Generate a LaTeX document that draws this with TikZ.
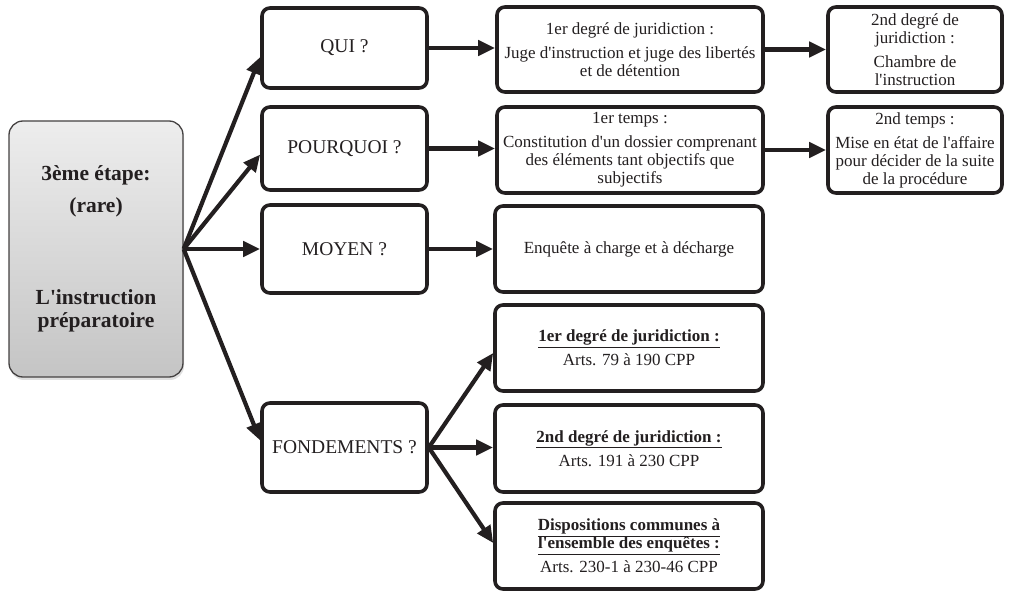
\documentclass[tikz,border=0pt]{standalone}
\usepackage{fontspec}
\newfontfamily\lib{Liberation Serif}
\usetikzlibrary{arrows.meta,shadows}
\definecolor{ink}{HTML}{231F20}
\begin{document}
\begin{tikzpicture}[x=1pt,y=-1pt,
  box/.style={draw=ink, line width=3.6pt, rounded corners=8pt, align=center, inner sep=0pt, fill=white, text=ink,
    font=\lib\fontsize{17}{18}\selectfont},
  qbox/.style={box, font=\lib\fontsize{19.5}{21}\selectfont},
  conn/.style={draw=ink, line width=4.2pt, -{Triangle[length=17pt,width=15pt]}},
  mainbox/.style={draw=ink!85, line width=1.3pt, rounded corners=14pt, align=center, inner sep=0pt, text=ink,
    top color=black!7, bottom color=black!23,
    drop shadow={shadow xshift=1pt, shadow yshift=-3pt, opacity=0.25},
    font=\lib\bfseries\fontsize{21.5}{23}\selectfont}
]
\useasboundingbox (0,0) rectangle (1010,593);

\node[mainbox, minimum width=174pt, minimum height=256pt] (left) at (96,249)
  {3ème étape:\\[9pt](rare)\\[69pt]L'instruction\\préparatoire};

\node[qbox, minimum width=165pt, minimum height=80pt] (qui) at (344.5,48) {QUI ?};
\node[qbox, minimum width=165pt, minimum height=83pt] (pq) at (344.5,148.5) {POURQUOI ?};
\node[qbox, minimum width=165pt, minimum height=88pt] (moy) at (344.5,249) {MOYEN ?};
\node[qbox, minimum width=165pt, minimum height=89pt] (fond) at (344.5,447.5) {FONDEMENTS ?};

\node[box, minimum width=266pt, minimum height=85pt] (m1) at (630,49.5)
  {1er degré de juridiction :\\[6pt]Juge d'instruction et juge des libertés\\et de détention};
\node[box, minimum width=266pt, minimum height=86pt] (m2) at (630,150)
  {1er temps :\\[6pt]Constitution d'un dossier comprenant\\des éléments tant objectifs que\\subjectifs};
\node[box, minimum width=268pt, minimum height=86pt] (m3) at (629,249)
  {Enquête à charge et à décharge};
\node[box, minimum width=268pt, minimum height=86pt] (f1) at (629,348)
  {\textbf{\underline{1er degré de juridiction :}}\\[6pt]Arts. 79 à 190 CPP};
\node[box, minimum width=268pt, minimum height=87pt] (f2) at (629,448.5)
  {\textbf{\underline{2nd degré de juridiction :}}\\[6pt]Arts. 191 à 230 CPP};
\node[box, minimum width=268pt, minimum height=86pt] (f3) at (629,546)
  {\textbf{\underline{Dispositions communes à}}\\\textbf{\underline{l'ensemble des enquêtes :}}\\[6pt]Arts. 230-1 à 230-46 CPP};

\node[box, minimum width=174pt, minimum height=85pt] (r1) at (915,49.5)
  {2nd degré de\\juridiction :\\[6pt]Chambre de\\l'instruction};
\node[box, minimum width=174pt, minimum height=86pt] (r2) at (915,150)
  {2nd temps :\\[6pt]Mise en état de l'affaire\\pour décider de la suite\\de la procédure};

\draw[conn] (left.east) -- ([yshift=-9pt]qui.west);
\draw[conn] (left.east) -- ([yshift=-6pt]pq.west);
\draw[conn] (left.east) -- (moy.west);
\draw[conn] (left.east) -- ([yshift=7pt]fond.west);

\draw[conn] (qui.east) -- (qui.east -| m1.west);
\draw[conn] (pq.east) -- (pq.east -| m2.west);
\draw[conn] (moy.east) -- (moy.east -| m3.west);

\draw[conn] (fond.east) -- ([yshift=-5pt]f1.west);
\draw[conn] (fond.east) -- (fond.east -| f2.west);
\draw[conn] (fond.east) -- ([yshift=3pt]f3.west);

\draw[conn] (m1.east) -- (m1.east -| r1.west);
\draw[conn] (m2.east) -- (m2.east -| r2.west);
\end{tikzpicture}
\end{document}
